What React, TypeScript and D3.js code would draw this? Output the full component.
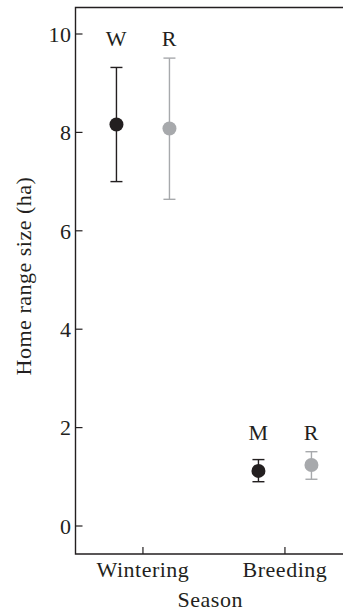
import { useEffect, useRef } from "react";
import * as d3 from "d3";

const seasons = ["Wintering", "Breeding"];
const seriesNames = ["migrant", "resident"];
const seriesColors = ["#231f20", "#a7a9ac"];

// mean and error bar ends (ha), one value per season
const migrantMean = [8.16, 1.12];
const migrantLow = [7.0, 0.9];
const migrantHigh = [9.32, 1.35];
const migrantLabels = ["W", "M"];

const residentMean = [8.08, 1.24];
const residentLow = [6.64, 0.95];
const residentHigh = [9.51, 1.51];
const residentLabels = ["R", "R"];

const yTicks = [0, 2, 4, 6, 8, 10];

export default function App() {
  const svgRef = useRef<SVGSVGElement | null>(null);

  useEffect(() => {
    const width = 343;
    const height = 614;
    const left = 75.5;
    const right = 352.4;
    const top = 7.5;
    const bottom = 554;
    const font = "Liberation Serif, DejaVu Serif, serif";
    const fontSize = 22;

    const svg = d3.select(svgRef.current);
    svg.selectAll("*").remove();
    svg
      .attr("width", width)
      .attr("height", height)
      .style("font-family", font)
      .style("font-size", `${fontSize}px`)
      .style("letter-spacing", "0.5px");

    const x = d3.scalePoint<string>().domain(seasons).range([left, right]).padding(0.475);
    const offset = d3.scalePoint<string>().domain(seriesNames).range([-26.5, 26.5]);
    const y = d3.scaleLinear().domain([0, 10]).range([526, 34]);

    // frame
    svg
      .append("path")
      .attr("d", `M${width},${top}H${left}V${bottom}H${width}`)
      .attr("fill", "none")
      .attr("stroke", "#231f20")
      .attr("stroke-width", 1.4);

    // y ticks (inward)
    const yg = svg.append("g");
    yg.selectAll("line")
      .data(yTicks)
      .enter()
      .append("line")
      .attr("x1", left)
      .attr("x2", left + 7)
      .attr("y1", (d) => y(d))
      .attr("y2", (d) => y(d))
      .attr("stroke", "#231f20")
      .attr("stroke-width", 1.2);
    yg.selectAll("text")
      .data(yTicks)
      .enter()
      .append("text")
      .attr("x", left - 4)
      .attr("y", (d) => y(d))
      .attr("dy", "0.35em")
      .attr("text-anchor", "end")
      .attr("fill", "#231f20")
      .text((d) => d);

    // x ticks (inward)
    const xg = svg.append("g");
    xg.selectAll("line")
      .data(seasons)
      .enter()
      .append("line")
      .attr("x1", (d) => x(d)!)
      .attr("x2", (d) => x(d)!)
      .attr("y1", bottom)
      .attr("y2", bottom - 7)
      .attr("stroke", "#231f20")
      .attr("stroke-width", 1.2);
    xg.selectAll("text")
      .data(seasons)
      .enter()
      .append("text")
      .attr("x", (d) => x(d)!)
      .attr("y", 577)
      .attr("text-anchor", "middle")
      .attr("fill", "#231f20")
      .text((d) => d);

    // axis titles
    svg
      .append("text")
      .attr("x", (left + width) / 2 + 1)
      .attr("y", 607)
      .attr("text-anchor", "middle")
      .attr("fill", "#231f20")
      .text("Season");
    svg
      .append("text")
      .attr("transform", "translate(31,276) rotate(-90)")
      .attr("text-anchor", "middle")
      .attr("fill", "#231f20")
      .text("Home range size (ha)");

    const series = [
      { name: "migrant", mean: migrantMean, low: migrantLow, high: migrantHigh, labels: migrantLabels },
      { name: "resident", mean: residentMean, low: residentLow, high: residentHigh, labels: residentLabels },
    ];

    series.forEach((s, si) => {
      const color = seriesColors[si];
      const g = svg.append("g");
      const pts = seasons.map((season, i) => ({
        cx: x(season)! + offset(s.name)!,
        mean: s.mean[i],
        low: s.low[i],
        high: s.high[i],
        label: s.labels[i],
        labelY: y(Math.max(migrantHigh[i], residentHigh[i])) - 12,
      }));

      g.selectAll("line.bar")
        .data(pts)
        .enter()
        .append("line")
        .attr("x1", (d) => d.cx)
        .attr("x2", (d) => d.cx)
        .attr("y1", (d) => y(d.low))
        .attr("y2", (d) => y(d.high))
        .attr("stroke", color)
        .attr("stroke-width", 1.4);

      ["low", "high"].forEach((k) => {
        g.selectAll(`line.cap-${k}`)
          .data(pts)
          .enter()
          .append("line")
          .attr("x1", (d) => d.cx - 6)
          .attr("x2", (d) => d.cx + 6)
          .attr("y1", (d) => y(k === "low" ? d.low : d.high))
          .attr("y2", (d) => y(k === "low" ? d.low : d.high))
          .attr("stroke", color)
          .attr("stroke-width", 1.4);
      });

      g.selectAll("circle")
        .data(pts)
        .enter()
        .append("circle")
        .attr("cx", (d) => d.cx)
        .attr("cy", (d) => y(d.mean))
        .attr("r", 7)
        .attr("fill", color);

      g.selectAll("text")
        .data(pts)
        .enter()
        .append("text")
        .attr("x", (d) => d.cx)
        .attr("y", (d) => d.labelY)
        .attr("text-anchor", "middle")
        .attr("fill", "#231f20")
        .text((d) => d.label);
    });
  }, []);

  return (
    <svg
      ref={svgRef}
      style={{ position: "absolute", left: 0, top: 0, display: "block", background: "#fff" }}
    ></svg>
  );
}
